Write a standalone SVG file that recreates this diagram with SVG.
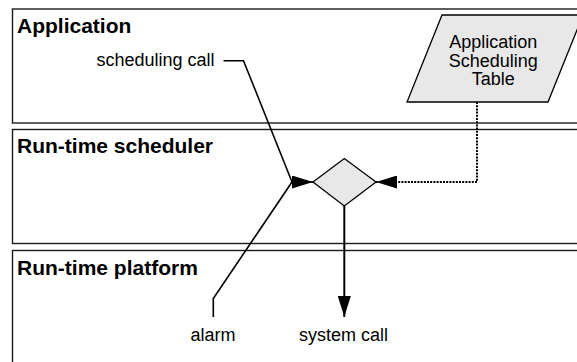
<svg xmlns="http://www.w3.org/2000/svg" width="577" height="362" viewBox="0 0 577 362">
  <style>
    .lane { fill: #ffffff; stroke: #1a1a1a; stroke-width: 1.4; }
    .title { font-family: "Liberation Sans", Arial, sans-serif; font-weight: bold; font-size: 21px; fill: #000; }
    .label { font-family: "Liberation Sans", Arial, sans-serif; font-size: 18px; fill: #000; }
    .shape { fill: #e8e8e8; stroke: #000; stroke-width: 1.3; }
    .wire { fill: none; stroke: #000; stroke-width: 1.6; }
    .flow { fill: none; stroke: #000; stroke-width: 2; }
    .dotted { fill: none; stroke: #000; stroke-width: 2; stroke-dasharray: 2 1.2; }
  </style>
  <defs>
    <marker id="arrow" viewBox="0 0 21 13" refX="21" refY="6.5" markerWidth="21" markerHeight="13" markerUnits="userSpaceOnUse" orient="auto">
      <path d="M0,0 L21,6.5 L0,13 Z" fill="#000"/>
    </marker>
  </defs>

  <!-- swim lanes -->
  <g id="lane-application">
    <rect class="lane" x="12.5" y="9" width="600" height="114"/>
    <text class="title" x="17" y="32.5">Application</text>
  </g>
  <g id="lane-scheduler">
    <rect class="lane" x="12.5" y="129.5" width="600" height="114"/>
    <text class="title" x="17" y="153">Run-time scheduler</text>
  </g>
  <g id="lane-platform">
    <rect class="lane" x="12.5" y="250.5" width="600" height="130"/>
    <text class="title" x="17" y="274.5">Run-time platform</text>
  </g>

  <!-- data store -->
  <g id="scheduling-table">
    <polygon class="shape" points="442,15 583,15 548,102 407,102"/>
    <text class="label" text-anchor="middle" x="493.3" y="48">Application</text>
    <text class="label" text-anchor="middle" x="493.3" y="66.5">Scheduling</text>
    <text class="label" text-anchor="middle" x="493.3" y="85">Table</text>
  </g>

  <!-- decision -->
  <g id="dispatcher">
    <polygon class="shape" points="313,182 344.3,158.5 376,182 344.3,206"/>
  </g>

  <!-- connectors -->
  <g id="connectors">
    <polyline class="wire" points="223.5,60.7 243.5,60.7 292,182"/>
    <polyline class="wire" points="213.3,317 213.3,298.5 292,182"/>
    <path class="wire" d="M291,182 H313" marker-end="url(#arrow)"/>
    <path class="dotted" d="M477,102 V182 H376" marker-end="url(#arrow)"/>
    <path class="flow" d="M344.3,206 V317" marker-end="url(#arrow)"/>
  </g>

  <!-- connector labels -->
  <g id="labels">
    <text class="label" text-anchor="end" x="214.5" y="66">scheduling call</text>
    <text class="label" text-anchor="middle" x="213" y="341">alarm</text>
    <text class="label" text-anchor="middle" x="343.5" y="341">system call</text>
  </g>
</svg>
